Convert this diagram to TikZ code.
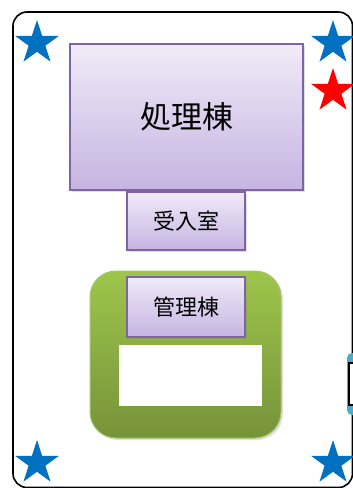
\documentclass[tikz,border=0pt]{standalone}
\usepackage{fontspec}
\newfontfamily\cjk{Noto Sans CJK JP}
\usetikzlibrary{shapes.geometric,shadows}
\definecolor{purpleedge}{HTML}{8064A2}
\definecolor{purpletop}{HTML}{F0EBF8}
\definecolor{purplebot}{HTML}{C6B4E2}
\definecolor{greentop}{HTML}{9EC54B}
\definecolor{greenbot}{HTML}{76933A}
\definecolor{greenedge}{HTML}{A3C865}
\definecolor{starblue}{HTML}{0070C0}
\definecolor{starred}{HTML}{FF0000}
\definecolor{cyanobj}{HTML}{4BACC6}
\tikzset{
  roombox/.style={draw=purpleedge, line width=1.6pt, top color=purpletop, bottom color=purplebot,
    drop shadow={shadow xshift=2pt, shadow yshift=-2pt, opacity=0.25}, inner sep=0pt,
    font=\cjk, text=black},
  starmark/.style={star, star points=5, star point ratio=2.618, minimum size=46pt, inner sep=0pt, draw=none},
  bluestar/.style={starmark, fill=starblue},
  redstar/.style={starmark, fill=starred},
}
\begin{document}
\begin{tikzpicture}[x=1pt,y=-1pt]
\useasboundingbox (0,0) rectangle (353,488);
\begin{scope}
\clip (0,0) rectangle (353,488);
% outer frame
\draw[line width=1.6pt, rounded corners=14pt] (13,12) rectangle (352.5,487.5);
% stars
\node[bluestar] (s1) at (37,43) {};
\node[bluestar] (s2) at (333,43) {};
\node[redstar] (s3) at (333,91) {};
\node[bluestar] (s4) at (37,463) {};
\node[bluestar] (s5) at (333,463) {};
% processing building
\node[roombox, minimum width=233pt, minimum height=146pt, font=\cjk\fontsize{31}{34}\selectfont] (proc) at (186.5,117) {処理棟};
\node[roombox, minimum width=118pt, minimum height=58pt, font=\cjk\fontsize{22}{25}\selectfont] (recv) at (186,221) {受入室};
% admin block
\node[draw=greenedge, line width=1pt, rounded corners=26pt, top color=greentop, bottom color=greenbot,
  drop shadow={shadow xshift=2pt, shadow yshift=-2pt, opacity=0.25},
  minimum width=191pt, minimum height=167pt, inner sep=0pt] (adminbg) at (185.5,354.5) {};
\node[roombox, minimum width=118pt, minimum height=60pt, font=\cjk\fontsize{22}{25}\selectfont] (admin) at (186,307) {管理棟};
\node[fill=white, draw=none, minimum width=143pt, minimum height=61pt, inner sep=0pt] (white) at (190.5,375.5) {};
% partial object on right edge
\node[fill=cyanobj, rounded corners=5pt, minimum width=20pt, minimum height=62pt, inner sep=0pt] (cyanobj) at (357,384) {};
\node[fill=white, draw=black, line width=1.5pt, minimum width=16pt, minimum height=42pt, inner sep=0pt] (cyanin) at (357,384) {};
\end{scope}
\end{tikzpicture}
\end{document}
